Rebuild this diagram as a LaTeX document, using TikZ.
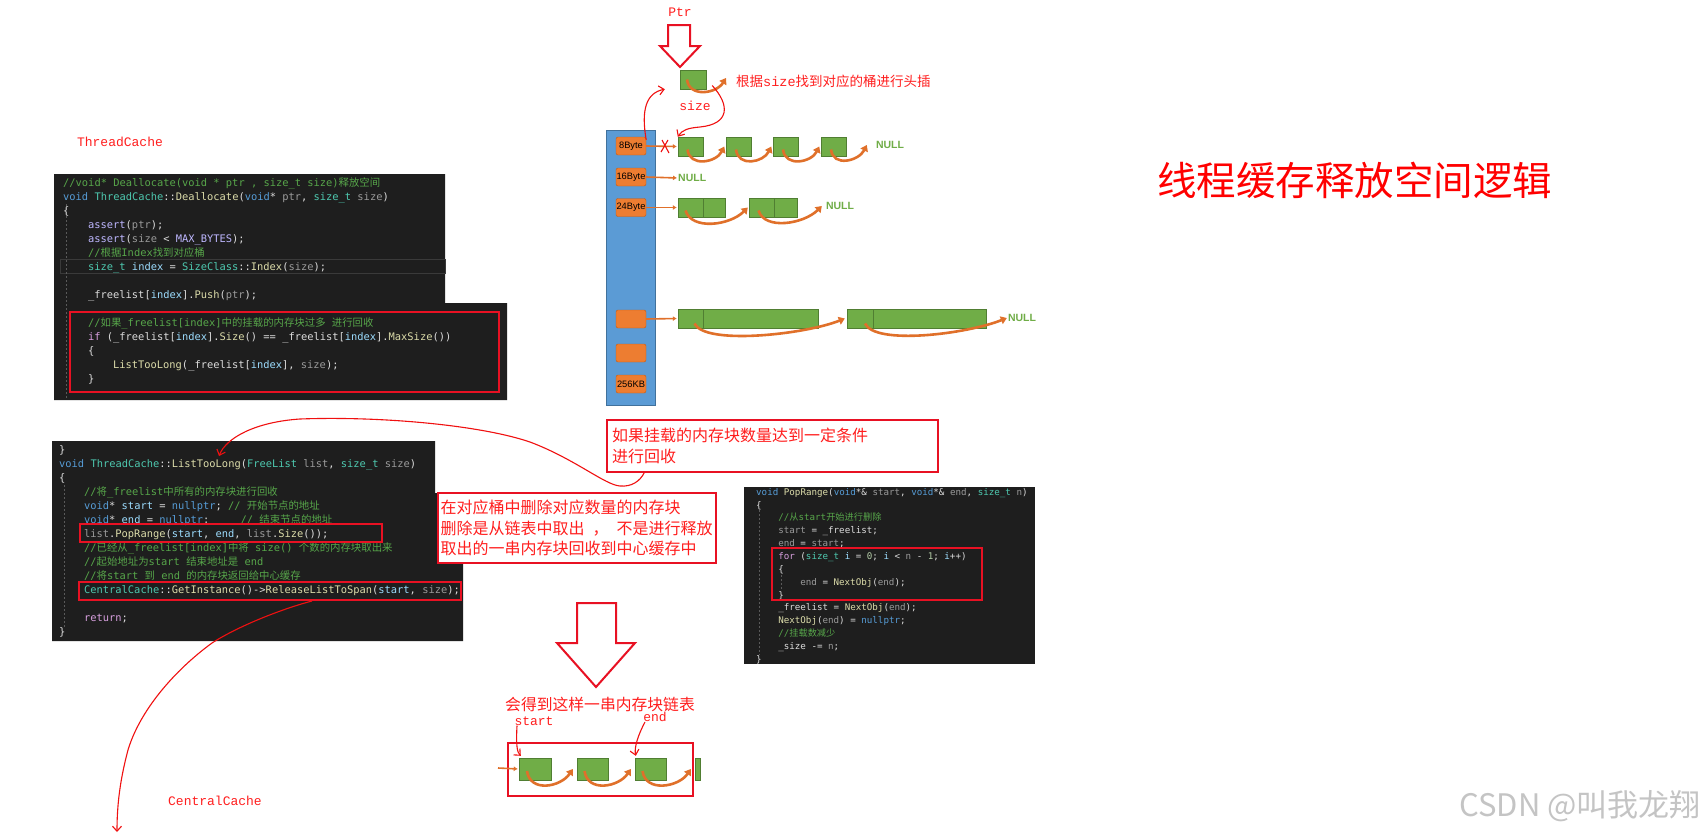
\documentclass[tikz,border=0pt]{standalone}
\usepackage{fontspec}
\usetikzlibrary{arrows.meta}
\newfontfamily\cjk{Noto Sans CJK SC}
\newfontfamily\codefont{DejaVu Sans Mono}
\newfontfamily\notefont{Liberation Mono}
\newfontfamily\labfont{Liberation Sans}
\definecolor{codebg}{HTML}{1E1E1E}
\definecolor{cplain}{HTML}{DCDCDC}
\definecolor{ckwc}{HTML}{569CD6}
\definecolor{ctyc}{HTML}{4EC9B0}
\definecolor{cfnc}{HTML}{DCDCAA}
\definecolor{cvrc}{HTML}{9CDCFE}
\definecolor{cpac}{HTML}{9A9A9A}
\definecolor{ckpc}{HTML}{D8A0DF}
\definecolor{ccmc}{HTML}{57A64A}
\definecolor{cmcc}{HTML}{BEB7FF}
\definecolor{cnmc}{HTML}{B5CEA8}
\definecolor{guidegray}{HTML}{5A5A5A}
\definecolor{linegray}{HTML}{3A3A3A}
\definecolor{markred}{HTML}{E81123}
\definecolor{notered}{HTML}{FF1E1E}
\definecolor{handred}{HTML}{F01010}
\definecolor{barblue}{HTML}{5B9BD5}
\definecolor{bardark}{HTML}{41719C}
\definecolor{bucketorange}{HTML}{ED7D31}
\definecolor{bucketdark}{HTML}{C55A11}
\definecolor{blkgreen}{HTML}{70AD47}
\definecolor{blkdark}{HTML}{507E32}
\definecolor{arrorange}{HTML}{E0702A}
\definecolor{wmgray}{HTML}{C4C4C4}
\definecolor{titlered}{HTML}{FF0000}
% code colouring
\newcommand\ckw[1]{\textcolor{ckwc}{#1}}
\newcommand\cty[1]{\textcolor{ctyc}{#1}}
\newcommand\cfn[1]{\textcolor{cfnc}{#1}}
\newcommand\cvr[1]{\textcolor{cvrc}{#1}}
\newcommand\cpa[1]{\textcolor{cpac}{#1}}
\newcommand\ckp[1]{\textcolor{ckpc}{#1}}
\newcommand\ccm[1]{\textcolor{ccmc}{#1}}
\newcommand\cmc[1]{\textcolor{cmcc}{#1}}
\newcommand\cnm[1]{\textcolor{cnmc}{#1}}
\newcommand\zh[1]{{\cjk #1}}
\newcommand\cind{\hspace*{2.4em}}
\begin{document}
\begin{tikzpicture}[x=1pt,y=-1pt,
  codeblk/.style={anchor=north west, inner sep=0pt, align=left, text=cplain, font=\codefont\fontsize{10.4}{14}\selectfont},
  guide/.style={draw=guidegray, line width=.6pt, dash pattern=on 2pt off 2pt},
  redbox/.style={draw=markred, line width=2pt, inner sep=0pt},
  notebox/.style={draw=markred, line width=1.6pt, fill=white, inner xsep=5pt, inner ysep=0pt, align=left, text=notered, font=\cjk\fontsize{16}{20.5}\selectfont},
  bucket/.style={draw=bucketdark, fill=bucketorange, rounded corners=2pt, minimum width=30pt, minimum height=18pt, inner sep=0pt, font=\labfont\fontsize{9.3}{10}\selectfont},
  blk/.style={draw=blkdark, fill=blkgreen, minimum height=19pt, inner sep=0pt},
  nul/.style={text=blkgreen, font=\labfont\bfseries\fontsize{10.5}{12}\selectfont, inner sep=0pt},
  link/.style={draw=arrorange, line width=1.6pt, shorten >=1pt, -{Latex[length=4pt,width=5pt]}},
  nxt/.style={draw=arrorange, line width=2.6pt, -{Triangle[length=6pt,width=8pt]}},
  hand/.style={draw=handred, line width=1.1pt},
  handarr/.style={hand, -{Straight Barb[length=5pt,width=9pt]}},
  annotxt/.style={text=notered, font=\notefont\fontsize{13}{15}\selectfont, inner sep=0pt},
]
\fill[white] (0,0) rectangle (1708,835);
\useasboundingbox (0,0) rectangle (1708,835);

% code panels
\fill[codebg] (54,174) -- (445,174) -- (445,303) -- (507,303) -- (507,400) -- (54,400) -- cycle;
\fill[codebg] (52,441) -- (435,441) -- (435,493) -- (463,493) -- (463,641) -- (52,641) -- cycle;
\fill[codebg] (744,487) rectangle (1035,664);
\draw[draw=linegray, line width=.8pt] (60,259) rectangle (445,273);
\draw[guide] (66,204) -- (66,398);
\draw[guide] (64,485) -- (64,628);
\draw[guide] (759,510) -- (759,655);
\draw[guide] (781,575) -- (781,590);

\node[codeblk] (dealloc) at (63,176) {\strut\ccm{//void* Deallocate(void * ptr , size\_t size)\zh{释放空间}}\\
\ckw{void} \cty{ThreadCache}::\cfn{Deallocate}(\ckw{void}* \cpa{ptr}, \cty{size\_t} \cpa{size})\\
\{\\
\cind\cmc{assert}(\cpa{ptr});\\
\cind\cmc{assert}(\cpa{size} < \cmc{MAX\_BYTES});\\
\cind\ccm{//\zh{根据}Index\zh{找到对应桶}}\\
\cind\cty{size\_t} \cvr{index} = \cty{SizeClass}::\cfn{Index}(\cpa{size});\\
\mbox{}\\
\cind\_freelist[\cvr{index}].\cfn{Push}(\cpa{ptr});\\
\mbox{}\\
\cind\ccm{//\zh{如果}\_freelist[index]\zh{中的挂载的内存块过多} \zh{进行回收}}\\
\cind\ckp{if} (\_freelist[\cvr{index}].\cfn{Size}() == \_freelist[\cvr{index}].\cfn{MaxSize}())\\
\cind\{\\
\cind\cind\cfn{ListTooLong}(\_freelist[\cvr{index}], \cpa{size});\\
\cind\}};

\node[codeblk] (toolong) at (59,443) {\strut\}\\
\ckw{void} \cty{ThreadCache}::\cfn{ListTooLong}(\cty{FreeList} \cpa{list}, \cty{size\_t} \cpa{size})\\
\{\\
\cind\ccm{//\zh{将}\_freelist\zh{中所有的内存块进行回收}}\\
\cind\ckw{void}* \cvr{start} = \ckw{nullptr}; \ccm{// \zh{开始节点的地址}}\\
\cind\ckw{void}* \cvr{end} = \ckw{nullptr};~~~~ \ccm{// \zh{结束节点的地址}}\\
\cind\cpa{list}.\cfn{PopRange}(\cvr{start}, \cvr{end}, \cpa{list}.\cfn{Size}());\\
\cind\ccm{//\zh{已经从}\_freelist[index]\zh{中将} size() \zh{个数的内存块取出来}}\\
\cind\ccm{//\zh{起始地址为}start \zh{结束地址是} end}\\
\cind\ccm{//\zh{将}start \zh{到} end \zh{的内存块返回给中心缓存}}\\
\cind\cty{CentralCache}::\cfn{GetInstance}()->\cfn{ReleaseListToSpan}(\cvr{start}, \cpa{size});\\
\mbox{}\\
\cind\ckp{return};\\
\}};

\node[codeblk, font=\codefont\fontsize{9.2}{12.85}\selectfont] (poprange) at (756,486) {\strut\ckw{void} \cfn{PopRange}(\ckw{void}*\& \cpa{start}, \ckw{void}*\& \cpa{end}, \cty{size\_t} \cpa{n})\\
\{\\
\cind\ccm{//\zh{从}start\zh{开始进行删除}}\\
\cind\cpa{start} = \_freelist;\\
\cind\cpa{end} = \cpa{start};\\
\cind\ckp{for} (\cty{size\_t} \cvr{i} = \cnm{0}; \cvr{i} < \cpa{n} - \cnm{1}; \cvr{i}++)\\
\cind\{\\
\cind\cind\cpa{end} = \cfn{NextObj}(\cpa{end});\\
\cind\}\\
\cind\_freelist = \cfn{NextObj}(\cpa{end});\\
\cind\cfn{NextObj}(\cpa{end}) = \ckw{nullptr};\\
\cind\ccm{//\zh{挂载数减少}}\\
\cind\_size -= \cpa{n};\\
\}};

% red frames on the code
\node[redbox, minimum width=429pt, minimum height=80pt] (ifbox) at (284.5,352) {};
\node[redbox, minimum width=302pt, minimum height=18pt] (popbox) at (231,533) {};
\node[redbox, minimum width=382pt, minimum height=18pt] (relbox) at (270,591) {};
\node[redbox, minimum width=210pt, minimum height=52pt] (forbox) at (877,574) {};

% notes
\node[notebox, minimum width=331pt, minimum height=52pt, text width=321pt] (cond) at (772.5,446) {如果挂载的内存块数量达到一定条件\\进行回收};
\node[notebox, minimum width=278pt, minimum height=70pt, text width=273pt, inner xsep=2.5pt] (del) at (577,528) {在对应桶中删除对应数量的内存块\\删除是从链表中取出\hspace{0.5em}，\hspace{0.5em}不是进行释放\\取出的一串内存块回收到中心缓存中};

\node[annotxt] (tclabel) at (120,142) {ThreadCache};
\node[annotxt] (cclabel) at (215,801) {CentralCache};
\node[anchor=west, text=titlered, font=\cjk\fontsize{39.5}{44}\selectfont, inner sep=0pt] (title) at (1157,180) {线程缓存释放空间逻辑};
\node[anchor=east, text=wmgray, font=\cjk\fontsize{31}{34}\selectfont, inner sep=0pt] (wm) at (1701,806) {CSDN @叫我龙翔};

% bucket table
\node[fill=barblue, draw=bardark, line width=.5pt, minimum width=49pt, minimum height=275pt, inner sep=0pt] (bar) at (630.5,267.5) {};
\node[bucket] (b8) at (631,146) {8Byte};
\node[bucket] (b16) at (631,177) {16Byte};
\node[bucket] (b24) at (631,207.5) {24Byte};
\node[bucket] (bx) at (631,319) {};
\node[bucket] (by) at (631,353) {};
\node[bucket] (b256) at (631,384) {256KB};

\node[blk, minimum width=25pt] (g1) at (690.5,146.5) {};
\node[blk, minimum width=25pt] (g2) at (739,146.5) {};
\node[blk, minimum width=25pt] (g3) at (786,146.5) {};
\node[blk, minimum width=25pt] (g4) at (834,146.5) {};
\node[nul] (n8) at (890,145) {NULL};
\node[nul, anchor=west] (n16) at (678,178) {NULL};
\node[blk, minimum width=25pt] (h1) at (690.5,207.5) {};
\node[blk, minimum width=22pt] (h2) at (714,207.5) {};
\node[blk, minimum width=25pt] (h3) at (761.5,207.5) {};
\node[blk, minimum width=23pt] (h4) at (785.5,207.5) {};
\node[nul] (n24) at (840,206) {NULL};
\node[blk, minimum width=25pt] (k1) at (690.5,318.5) {};
\node[blk, minimum width=115pt] (k2) at (760.5,318.5) {};
\node[blk, minimum width=26pt] (k3) at (860,318.5) {};
\node[blk, minimum width=113pt] (k4) at (929.5,318.5) {};
\node[nul] (n4) at (1022,318) {NULL};

\draw[link] (b8.east) -- (g1.west);
\draw[link] (b16.east) -- (n16.west);
\draw[link] (b24.east) -- (h1.west);
\draw[link] (bx.east) -- (k1.west);

\draw[nxt] ([shift={(-3,3)}]g1.center) .. controls +(2,18) and +(-8,16) .. ([xshift=-2pt]g2.west);
\draw[nxt] ([shift={(-3,3)}]g2.center) .. controls +(2,18) and +(-8,16) .. ([xshift=-2pt]g3.west);
\draw[nxt] ([shift={(-3,3)}]g3.center) .. controls +(2,18) and +(-8,16) .. ([xshift=-2pt]g4.west);
\draw[nxt] ([shift={(-3,3)}]g4.center) .. controls +(2,18) and +(-8,16) .. ([xshift=-9pt]n8.west);
\draw[nxt] ([shift={(-5,3)}]h1.center) .. controls +(6,20) and +(-18,18) .. ([xshift=-1pt]h3.west);
\draw[nxt] ([shift={(-3,3)}]h3.center) .. controls +(6,20) and +(-18,18) .. ([xshift=-4pt]n24.west);
\draw[nxt] ([shift={(4,5)}]k1.center) .. controls +(10,22) and +(-40,16) .. ([xshift=-2pt]k3.west);
\draw[nxt] ([shift={(5,5)}]k3.center) .. controls +(10,22) and +(-40,16) .. ([xshift=-1pt]n4.west);

% incoming block
\node[annotxt] (ptr) at (680,12) {Ptr};
\draw[markred, line width=2pt, fill=white] (668,25) -- (690,25) -- (690,46) -- (700,46) -- (680,67) -- (660,46) -- (668,46) -- cycle;
\node[blk, minimum width=26pt] (newblk) at (693,79.5) {};
\coordinate (newnext) at (726,78);
\draw[nxt] ([shift={(-6,0)}]newblk.center) .. controls +(2,18) and +(-10,16) .. (newnext);
\node[annotxt] (sz) at (695,106) {size};
\node[annotxt, anchor=west, font=\cjk\fontsize{13.5}{16}\selectfont] (headins) at (736,81) {根据{\notefont size}找到对应的桶进行头插};
\draw[handarr] ([yshift=-3pt]b8.north east) .. controls (641,110) and (646,93) .. ([xshift=-15pt]newblk.south west);
\draw[handarr] ([shift={(6,6)}]newblk.east) .. controls (730,105) and (730,124) .. (700,127) .. controls (688,128) and (682,130) .. (g1.north west);
\draw[hand] (662,140) -- (669,153);
\draw[hand] (668,140) -- (661,152);

% note arrows
\coordinate (ltl) at (219,456);
\draw[handarr] ([xshift=38pt]cond.south west) .. controls (640,481) and (632,487) .. (620,486) .. controls (605,485) and (575,459) .. (530,442) .. controls (480,425) and (380,416) .. (300,419) .. controls (255,422) and (226,438) .. (ltl);
\draw[handarr] ([xshift=42pt]relbox.south) .. controls (285,608) and (240,625) .. (212,643) .. controls (175,670) and (140,710) .. (128,750) .. controls (120,780) and (117,805) .. (117,832);

% resulting list
\draw[markred, line width=2pt, fill=white] (577,603) -- (616,603) -- (616,643) -- (635,643) -- (596,687) -- (557,643) -- (577,643) -- cycle;
\node[text=notered, font=\cjk\fontsize{15.8}{18}\selectfont, inner sep=0pt] (gets) at (600,704) {会得到这样一串内存块链表};
\node[annotxt] (st) at (534,721) {start};
\node[annotxt] (en) at (655,717) {end};
\node[blk, minimum width=32pt, minimum height=22pt] (s1) at (535,769) {};
\node[blk, minimum width=31pt, minimum height=22pt] (s2) at (592.5,769) {};
\node[blk, minimum width=31pt, minimum height=22pt] (s3) at (650.5,769) {};
\node[blk, minimum width=5pt, minimum height=22pt] (s4) at (697.5,769) {};
\node[redbox, minimum width=185pt, minimum height=53pt] (listbox) at (600.5,769.5) {};
\coordinate (inarr) at (498,768);
\draw[link] (inarr) -- (s1.west);
\draw[nxt] ([shift={(-8,2)}]s1.center) .. controls +(3,22) and +(-12,18) .. ([xshift=-4pt]s2.west);
\draw[nxt] ([shift={(-8,2)}]s2.center) .. controls +(3,22) and +(-12,18) .. ([xshift=-4pt]s3.west);
\draw[nxt] ([shift={(-8,2)}]s3.center) .. controls +(3,22) and +(-12,18) .. ([xshift=-4pt]s4.west);
\draw[handarr] ([xshift=-17pt]st.south) .. controls (516,745) and (517,752) .. ([shift={(2,-2)}]s1.north west);
\draw[handarr] ([xshift=-10pt]en.south) .. controls (638,735) and (634,748) .. ([shift={(1,-2)}]s3.north west);
\end{tikzpicture}
\end{document}
